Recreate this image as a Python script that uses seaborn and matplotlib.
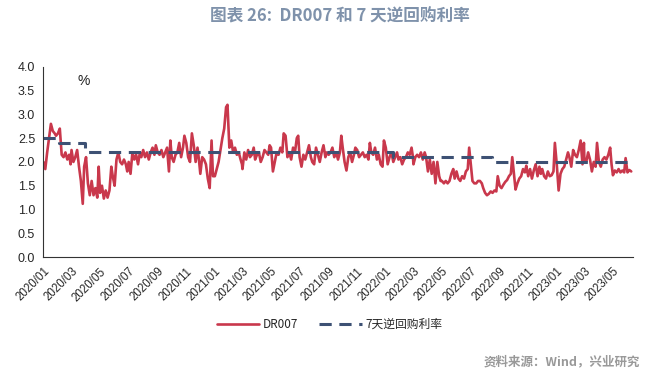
import pandas as pd
import numpy as np
import matplotlib
matplotlib.use("Agg")
import matplotlib.pyplot as plt
import matplotlib.dates as mdates
import seaborn as sns

# ------------------------------
# Data (~8 points per month)
# ------------------------------
sample_days = [1, 5, 9, 13, 17, 21, 25, 28]

dr007_2020 = [
    2.0, 1.85, 2.2, 2.5, 2.8, 2.65, 2.6, 2.55,
    2.6, 2.7, 2.15, 2.1, 2.2, 2.05, 2.15, 1.95,
    2.25, 2.0, 2.1, 2.25, 1.9, 1.6, 1.12, 1.9,
    2.1, 1.55, 1.3, 1.6, 1.3, 1.45, 1.25, 1.9,
    1.35, 1.5, 1.23, 1.4, 1.25, 1.4, 1.9, 1.7,
    1.5, 2.05, 2.2, 2.0, 1.95, 2.05, 1.95, 1.8,
    2.0, 1.75, 2.2, 2.05, 2.15, 1.95, 2.2, 2.1,
    2.25, 2.1, 2.2, 2.05, 2.2, 2.3, 2.15, 2.35,
    2.2, 2.15, 2.25, 2.1, 2.2, 2.3, 1.8, 2.45,
    2.1, 2.0, 2.15, 2.2, 2.4, 2.1, 2.3, 2.55,
    2.4, 2.1, 2.0, 2.6, 2.35, 2.0, 2.3, 2.05,
    1.75, 2.1, 2.05, 1.95, 1.65, 1.45, 2.45, 1.7,
]
dr007_2021 = [
    1.7, 1.85, 2.0, 2.25, 2.5, 2.7, 3.15, 3.2,
    2.3, 2.45, 2.2, 2.3, 2.15, 2.2, 2.05, 1.95,
    1.85, 2.2, 2.05, 2.25, 2.1, 2.15, 2.3, 2.05,
    2.15, 2.2, 2.0, 2.1, 2.25, 2.2, 2.15, 2.35,
    2.3, 1.8, 2.0, 2.2, 2.15, 2.3, 2.2, 2.6,
    2.55, 2.1, 2.2, 2.05, 2.3, 2.2, 2.5, 2.55,
    2.1, 1.9, 2.15, 2.05, 2.2, 2.35, 2.1, 2.0,
    1.95, 2.3, 2.15, 2.0, 2.2, 2.35, 2.1, 2.2,
    2.15, 2.2, 2.3, 2.1, 2.2, 2.05, 2.2, 2.55,
    2.3, 2.0, 1.82, 2.1, 2.2, 2.0, 2.15, 2.3,
    2.25, 2.1, 2.15, 2.2, 2.1, 2.15, 2.05, 2.4,
    2.2, 2.15, 2.3, 2.05, 2.15, 1.95, 1.9, 2.45,
]
dr007_2022 = [
    2.3, 1.95, 2.1, 2.2, 2.0, 2.1, 2.2, 2.05,
    2.1, 1.95, 2.05, 2.1, 2.2, 2.15, 2.3, 2.1,
    1.95, 2.1, 2.15, 2.1, 2.2, 2.05, 2.2, 2.1,
    1.8, 2.05, 1.75, 2.0, 1.55, 2.0, 1.7, 1.6,
    1.6, 1.55, 1.6, 1.55, 1.6, 1.75, 1.85, 1.65,
    1.8, 1.65, 1.6, 1.7, 1.65, 1.8, 1.85, 2.3,
    2.0, 1.6, 1.55, 1.55, 1.6, 1.6, 1.55, 1.45,
    1.35, 1.3, 1.33, 1.38, 1.35, 1.4, 1.38, 1.7,
    1.5, 1.45, 1.52, 1.58, 1.62, 1.7, 1.75, 2.1,
    1.8, 1.42, 1.55, 1.65, 1.7, 1.85, 1.78, 1.92,
    1.7, 1.85, 1.65, 1.82, 1.95, 1.7, 1.9, 1.75,
    1.85, 1.7, 1.65, 1.8, 1.7, 1.72, 1.8, 2.4,
]
dr007_2023 = [
    1.95, 1.4, 1.75, 1.85, 1.9, 2.05, 2.2, 2.1,
    1.9, 2.25, 2.15, 2.1, 2.25, 2.45, 1.95, 2.4,
    2.05, 2.0, 2.2, 2.05, 1.8, 2.0, 1.9, 2.4,
    2.0, 1.9, 2.05, 2.1, 2.05, 2.15, 2.3, 1.95,
    1.72, 1.82, 1.78, 1.85, 1.78, 1.82, 1.78, 2.08,
    1.78, 1.83, 1.8,
]

# 7-day reverse repo rate: change dates and levels
repo_dates = ["2020-01-01", "2020-02-03", "2020-03-30", "2022-01-17", "2022-08-15", "2023-06-09"]
repo_rates = [2.5, 2.4, 2.2, 2.1, 2.0, 2.0]

tick_labels_fmt = "%Y/%m"

# ------------------------------
# Build frames
# ------------------------------
dates = []
for m in pd.date_range("2020-01-01", "2023-05-01", freq="MS"):
    for d in sample_days:
        dates.append(m + pd.Timedelta(days=d - 1))
for d in [1, 5, 9]:
    dates.append(pd.Timestamp(2023, 6, d))

dr = pd.DataFrame({
    "date": dates,
    "value": dr007_2020 + dr007_2021 + dr007_2022 + dr007_2023,
})
repo = pd.DataFrame({"date": pd.to_datetime(repo_dates), "value": repo_rates})

# ------------------------------
# Plot
# ------------------------------
sns.set_style("white")
plt.rcParams["font.family"] = ["Liberation Sans", "Noto Sans CJK SC", "DejaVu Sans"]

fig = plt.figure(figsize=(6.48, 3.77), dpi=100)
ax = fig.add_axes([0.067, 0.318, 0.910, 0.505])

red = "#c9384c"
navy = "#3d5174"

sns.lineplot(data=dr, x="date", y="value", ax=ax, color=red, linewidth=1.9, label="DR007")
sns.lineplot(data=repo, x="date", y="value", ax=ax, color=navy, linewidth=2.2,
             drawstyle="steps-post", label="7天逆回购利率", dashes=False)
ax.lines[1].set_dashes([4, 2.5])

ax.set_ylim(0, 4.0)
ax.set_yticks(np.arange(0, 4.01, 0.5))
ax.set_yticklabels([f"{v:.1f}" for v in np.arange(0, 4.01, 0.5)], fontsize=9)
ax.set_xlim(pd.Timestamp("2020-01-01"), pd.Timestamp("2023-06-13"))
ax.xaxis.set_major_locator(mdates.MonthLocator(bymonth=[1, 3, 5, 7, 9, 11]))
ax.xaxis.set_major_formatter(mdates.DateFormatter(tick_labels_fmt))
plt.setp(ax.get_xticklabels(), rotation=45, ha="right", rotation_mode="anchor", fontsize=8.3)

ax.set_xlabel("")
ax.set_ylabel("")
for s in ["top", "right"]:
    ax.spines[s].set_visible(False)
for s in ["left", "bottom"]:
    ax.spines[s].set_color("#333333")
    ax.spines[s].set_linewidth(0.8)
ax.tick_params(axis="both", direction="out", length=4, width=0.8, color="#666666", pad=2)

ax.text(0.058, 0.905, "%", transform=ax.transAxes, fontsize=10, color="#222222")

ax.legend(loc="upper center", bbox_to_anchor=(0.485, -0.265), ncol=2, frameon=False,
          handlelength=3.6, handletextpad=0.3, columnspacing=1.8,
          prop={"family": ["Noto Sans CJK SC"], "size": 8.5})

fig.text(0.525, 0.955, "图表 26:  DR007 和 7 天逆回购利率", ha="center", va="center",
         fontsize=12, fontweight="bold", color="#7f92ab",
         family=["Noto Sans CJK SC", "DejaVu Sans"])
fig.text(0.988, 0.04, "资料来源：Wind，兴业研究", ha="right", va="center",
         fontsize=9, fontweight="bold", color="#999999",
         family=["Noto Sans CJK SC", "DejaVu Sans"])

fig.savefig("out.png", dpi=100)
